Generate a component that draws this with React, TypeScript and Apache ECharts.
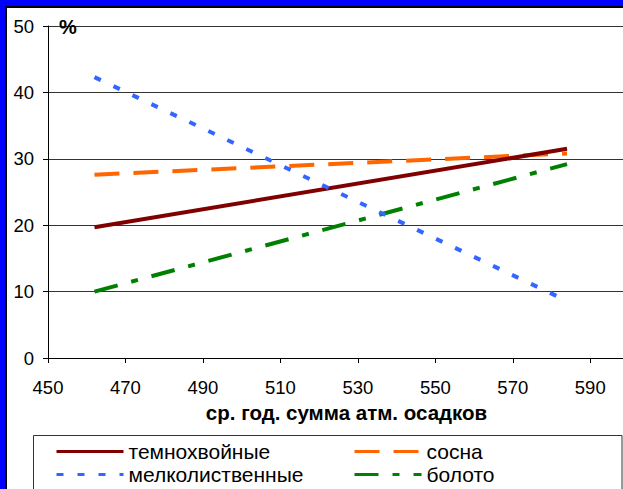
import React, { useEffect, useRef } from "react";
import * as echarts from "echarts";

// Mean annual precipitation (mm) at the two ends of each trend line
const xValues = [462, 584];
// Share of each cover type, %
const darkConifer = [19.7, 31.5];
const pine = [27.6, 30.8];
const smallLeaved = [42.3, 8.6];
const swamp = [10.0, 29.2];

const seriesNames = ["темнохвойные", "сосна", "мелколиственные", "болото"];
const xTicks = [450, 470, 490, 510, 530, 550, 570, 590];

const FONT = "'Liberation Sans', Arial, sans-serif";

const pairs = (ys: number[]) => xValues.map((x, i) => [x, ys[i]]);

export default function App() {
  const ref = useRef<HTMLDivElement>(null);

  useEffect(() => {
    if (!ref.current) return;
    const chart = echarts.init(ref.current, null, { renderer: "svg" });

    const lineSeries = (
      name: string,
      ys: number[],
      color: string,
      type: any,
      z: number
    ) => ({
      name,
      type: "line",
      data: pairs(ys),
      symbol: "none",
      showSymbol: false,
      z,
      lineStyle: { color, width: 4, type, cap: "butt" },
      itemStyle: { color },
    });

    const legendBase = {
      orient: "vertical",
      top: 440,
      padding: 0,
      itemWidth: 67,
      itemHeight: 14,
      itemGap: 0,
      textStyle: { fontFamily: FONT, fontSize: 21, color: "#000", lineHeight: 23 },
      lineStyle: { width: 3 },
      itemStyle: { opacity: 0 },
    };

    chart.setOption({
      animation: false,
      backgroundColor: "#ffffff",
      textStyle: { fontFamily: FONT },
      // the plot runs past the right edge of the canvas (x max sits just off-screen)
      grid: {
        left: 48,
        top: 26,
        width: 581,
        height: 332,
        containLabel: false,
        outerBoundsMode: "none",
      },
      xAxis: {
        type: "value",
        min: 450,
        max: 600,
        name: "ср. год. сумма атм. осадков",
        nameLocation: "middle",
        nameGap: 42,
        nameTextStyle: {
          fontFamily: FONT,
          fontSize: 20.5,
          fontWeight: "bold",
          color: "#000",
          padding: [0, 0, 0, 16],
        },
        axisLine: { show: true, lineStyle: { color: "#000", width: 1 } },
        axisTick: {
          show: true,
          length: 5,
          inside: false,
          customValues: xTicks,
          lineStyle: { color: "#000" },
        },
        axisLabel: {
          customValues: xTicks,
          margin: 20,
          fontFamily: FONT,
          fontSize: 18.5,
          color: "#000",
        },
        splitLine: { show: false },
      },
      yAxis: {
        type: "value",
        min: 0,
        max: 50,
        interval: 10,
        axisLine: { show: true, lineStyle: { color: "#000", width: 1 } },
        axisTick: { show: true, length: 5, lineStyle: { color: "#000" } },
        axisLabel: {
          margin: 14,
          fontFamily: FONT,
          fontSize: 18.5,
          color: "#000",
        },
        splitLine: { show: true, lineStyle: { color: "#333", width: 1 } },
      },
      legend: [
        { ...legendBase, left: 55, data: [seriesNames[0], seriesNames[2]] },
        { ...legendBase, left: 353, data: [seriesNames[1], seriesNames[3]] },
      ],
      graphic: [
        {
          type: "rect",
          z: 1,
          shape: { x: 33.5, y: 435.5, width: 588.5, height: 80 },
          style: { fill: "none", stroke: "#333", lineWidth: 1 },
        },
        {
          type: "text",
          left: 59,
          top: 17,
          z: 10,
          style: {
            text: "%",
            fontFamily: FONT,
            fontSize: 20,
            fontWeight: "bold",
            fill: "#000",
          },
        },
        // frame along the top and left edges
        {
          type: "rect",
          z: 100,
          shape: { x: 0, y: 0, width: 623, height: 6 },
          style: { fill: "#0000ff" },
        },
        {
          type: "rect",
          z: 100,
          shape: { x: 0, y: 0, width: 5, height: 489 },
          style: { fill: "#0000ff" },
        },
        {
          type: "rect",
          z: 100,
          shape: { x: 5, y: 6, width: 618, height: 2 },
          style: { fill: "#000" },
        },
        {
          type: "rect",
          z: 100,
          shape: { x: 5, y: 6, width: 2, height: 483 },
          style: { fill: "#000" },
        },
      ],
      series: [
        lineSeries(seriesNames[1], pine, "#ff6600", [25, 14], 2),
        lineSeries(seriesNames[0], darkConifer, "#800000", "solid", 3),
        lineSeries(seriesNames[3], swamp, "#008000", [24, 14, 7, 14], 2),
        lineSeries(seriesNames[2], smallLeaved, "#3366ff", [7, 14], 3),
      ],
    });

    return () => chart.dispose();
  }, []);

  return (
    <div
      ref={ref}
      style={{ position: "fixed", left: 0, top: 0, width: 623, height: 489 }}
    />
  );
}
